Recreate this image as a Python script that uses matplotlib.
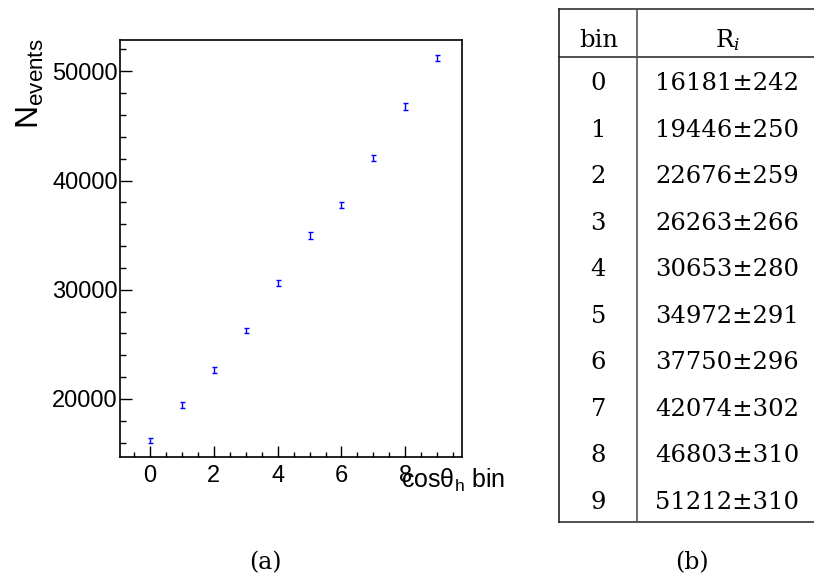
import matplotlib
matplotlib.use("Agg")
import matplotlib.pyplot as plt
from matplotlib.lines import Line2D
from matplotlib.ticker import MultipleLocator

plt.rcParams["font.family"] = ["Liberation Sans", "DejaVu Sans"]
plt.rcParams["mathtext.fontset"] = "custom"
plt.rcParams["mathtext.rm"] = "Liberation Sans"
plt.rcParams["mathtext.it"] = "Liberation Sans:italic"
plt.rcParams["mathtext.bf"] = "Liberation Sans:bold"

# Event yields per cos(theta_h) bin
bins = [0, 1, 2, 3, 4, 5, 6, 7, 8, 9]
counts = [16181, 19446, 22676, 26263, 30653, 34972, 37750, 42074, 46803, 51212]
errors = [242, 250, 259, 266, 280, 291, 296, 302, 310, 310]
y_ticks = [20000, 30000, 40000, 50000]
x_ticks = [0, 2, 4, 6, 8]

W, H = 814, 580
fig = plt.figure(figsize=(W / 100, H / 100), dpi=100)


def fx(px):
    return px / W


def fy(py):
    return 1 - py / H


# ---- (a) graph of yields ----
ax_l, ax_r, ax_t, ax_b = 120.0, 462.3, 39.7, 457.3
ax = fig.add_axes([fx(ax_l), fy(ax_b), (ax_r - ax_l) / W, (ax_b - ax_t) / H])
ax.errorbar(bins, counts, yerr=errors, fmt="none", ecolor="#0000ff",
            elinewidth=1.0, capsize=1.8, capthick=1.0)
ax.set_xlim(-0.93, 9.78)
ax.set_ylim(14660, 52890)
ax.set_xticks(x_ticks)
ax.set_yticks(y_ticks)
ax.xaxis.set_minor_locator(MultipleLocator(0.5))
ax.yaxis.set_minor_locator(MultipleLocator(2000))
ax.tick_params(which="both", direction="in", top=False, right=False,
               labelsize=17, color="black", width=1.0)
ax.tick_params(axis="x", which="major", length=8, pad=5.5)
ax.tick_params(axis="x", which="minor", length=3.8)
ax.tick_params(axis="y", which="major", length=8.6, pad=1.5)
ax.tick_params(axis="y", which="minor", length=4.3)
for s in ax.spines.values():
    s.set_linewidth(1.2)

fig.text(fx(15), fy(38), r"N$_{\mathrm{events}}$", rotation=90,
         ha="left", va="top", fontsize=23)
fig.text(fx(505), fy(488), r"cosθ$_{\mathrm{h}}$ bin", ha="right",
         va="baseline", fontsize=18)

# ---- (b) table of yields ----
tab_left, tab_div, tab_right = 559.3, 637.3, 817.0
tab_top, head_bot, row_h = 9.0, 56.7, 46.5
n_rows = len(bins)
tab_bot = head_bot + row_h * n_rows
lc = "#333333"
lw = 1.2
for yy in (tab_top, head_bot, tab_bot):
    fig.add_artist(Line2D([fx(tab_left), fx(tab_right)], [fy(yy), fy(yy)],
                          color=lc, lw=lw))
for xx, c in ((tab_left, "#222222"), (tab_div, "#555555"), (tab_right, lc)):
    fig.add_artist(Line2D([fx(xx), fx(xx)], [fy(tab_top), fy(tab_bot)],
                          color=c, lw=lw))

serif = ["DejaVu Serif"]
col1 = (tab_left + tab_div) / 2
col2 = (tab_div + tab_right) / 2
head_base = (tab_top + head_bot) / 2 + 14
fig.text(fx(col1), fy(head_base), "bin", ha="center", va="baseline",
         fontsize=17.5, family=serif)
fig.text(fx(col2), fy(head_base), r"$\mathrm{R}_{i}$", ha="center",
         va="baseline", fontsize=17.5, math_fontfamily="dejavuserif")
for i, (b, c, e) in enumerate(zip(bins, counts, errors)):
    base = head_bot + row_h * (i + 0.5) + 10.5
    fig.text(fx(col1), fy(base), f"{b}", ha="center", va="baseline",
             fontsize=17.5, family=serif)
    fig.text(fx(col2), fy(base), f"{c}\u00b1{e}", ha="center",
             va="baseline", fontsize=17.5, family=serif)

# ---- sub-figure captions ----
fig.text(fx(265), fy(563), "(a)", ha="center", va="center", fontsize=17,
         family=serif)
fig.text(fx(691.7), fy(563), "(b)", ha="center", va="center", fontsize=17,
         family=serif)

fig.savefig("out.png", dpi=100)
